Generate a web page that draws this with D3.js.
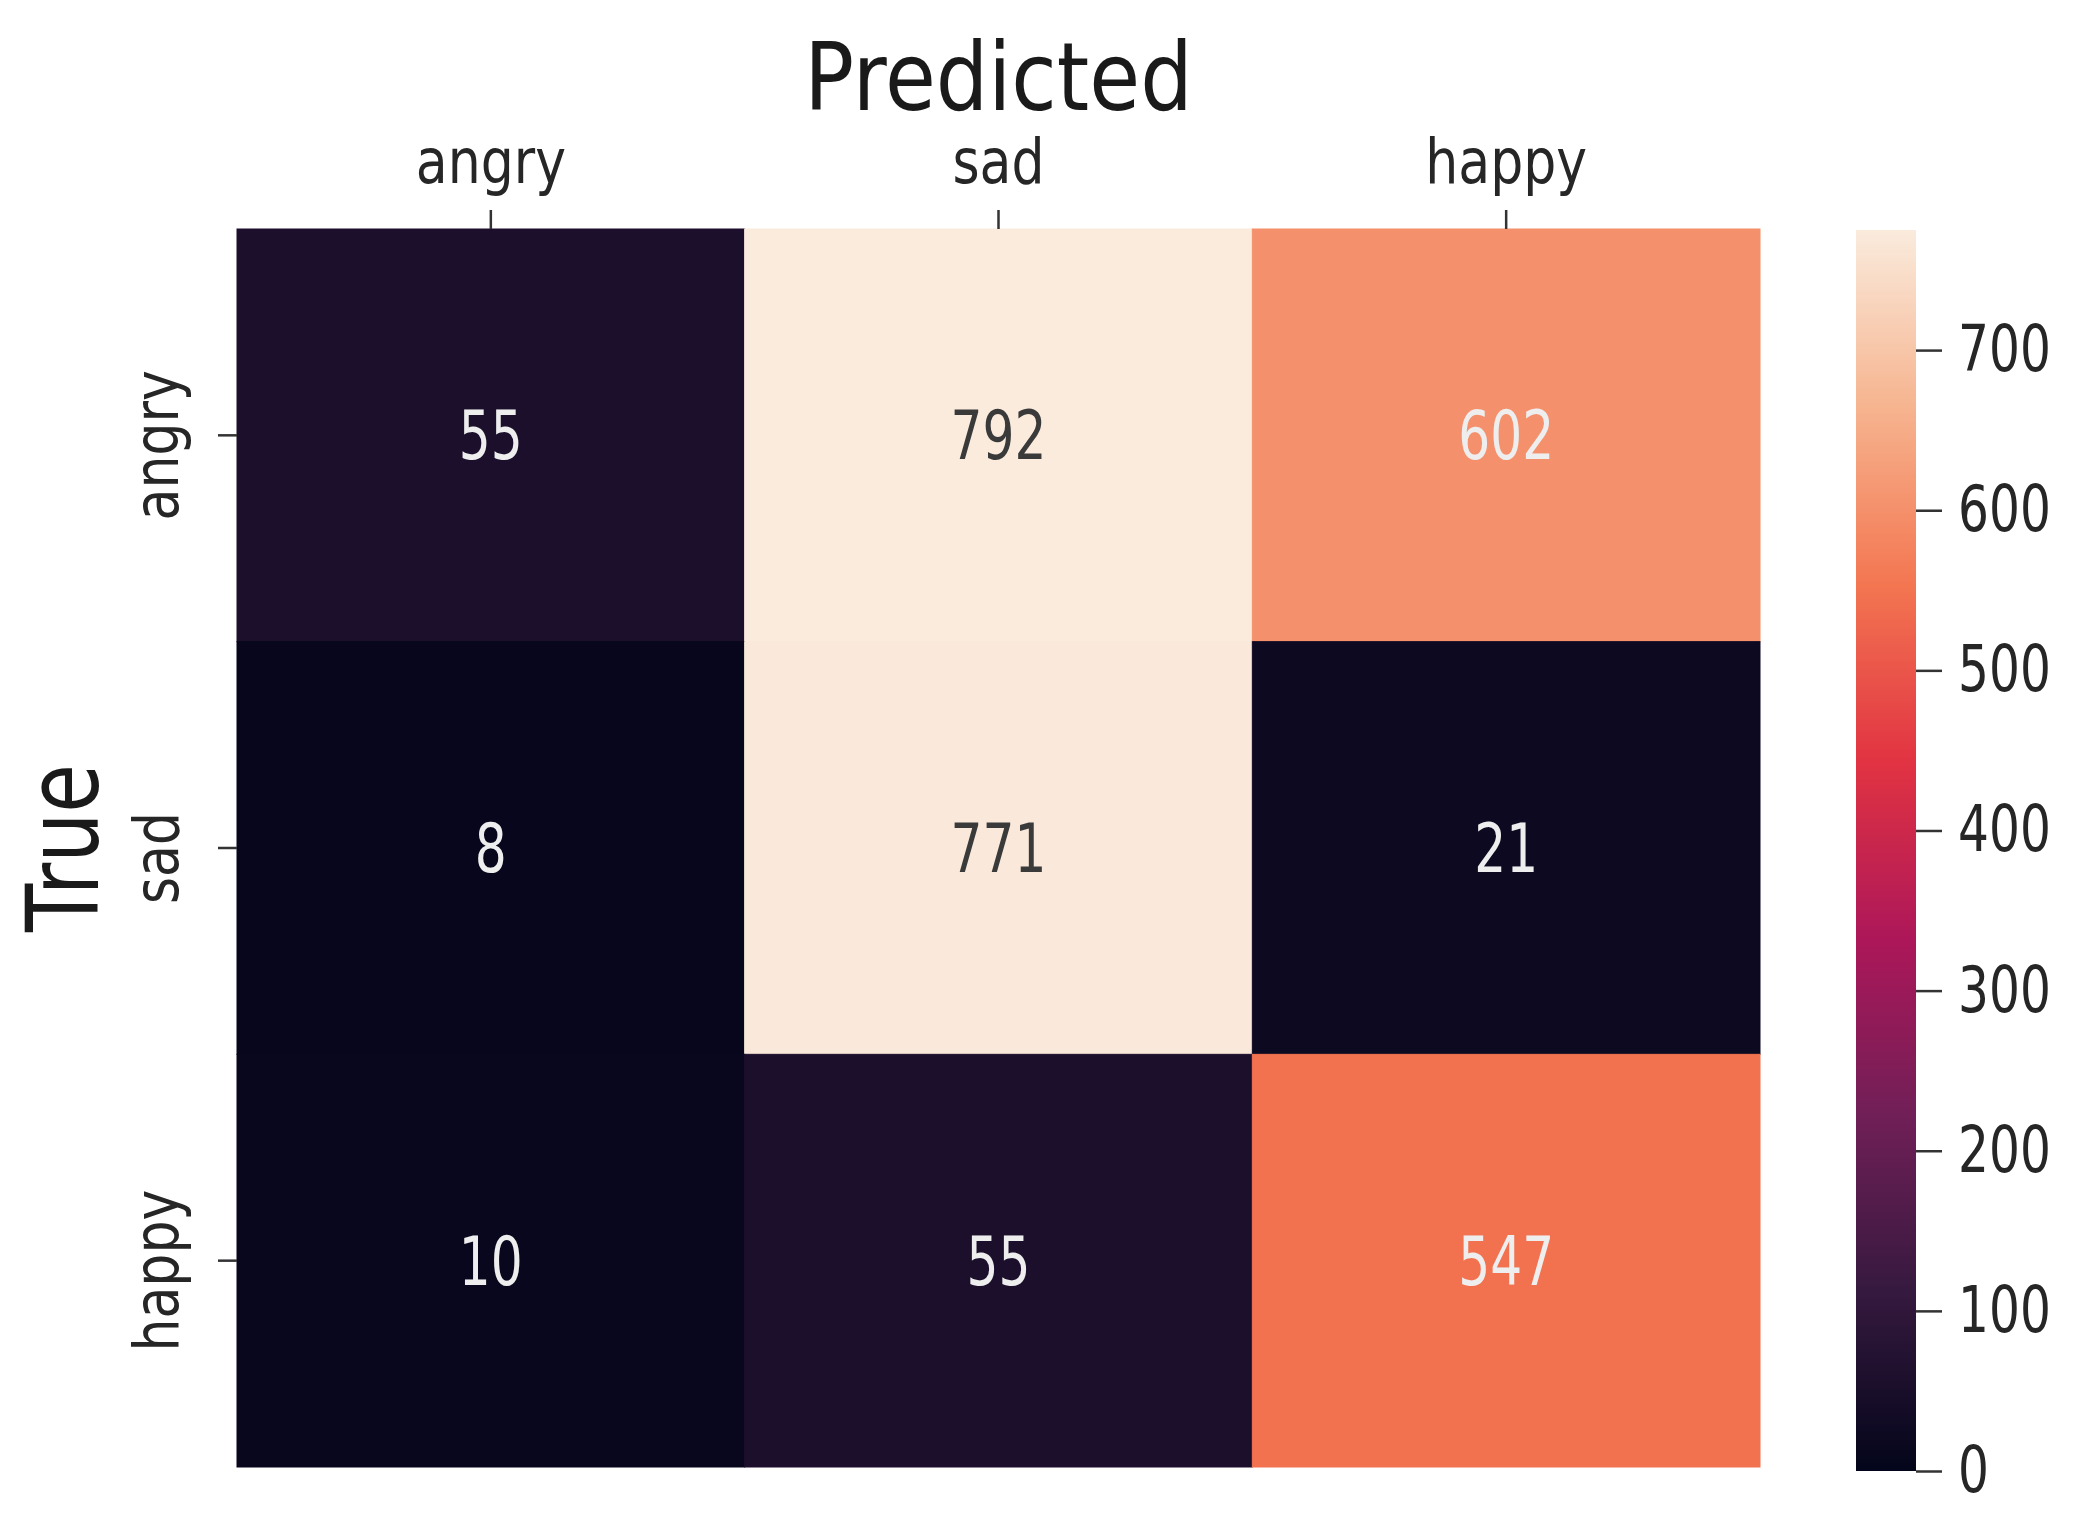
<!DOCTYPE html>
<html>
<head>
<meta charset="utf-8">
<script src="https://cdn.jsdelivr.net/npm/d3@7"></script>
<style>
  body { margin: 0; background: #fff; }
  text { font-family: "DejaVu Sans", sans-serif; }
</style>
</head>
<body>
<svg id="chart" width="2091" height="1536"></svg>
<script>
// confusion matrix
const predicted = ["angry", "sad", "happy"];
const actual = ["angry", "sad", "happy"];
const counts = [
  [55, 792, 602],
  [8, 771, 21],
  [10, 55, 547]
];
const cbarTicks = [0, 100, 200, 300, 400, 500, 600, 700];
const cbarMax = 775;

// rocket palette stops
const rocketPos = [0, 0.143, 0.286, 0.429, 0.571, 0.714, 0.857, 1];
const rocketCol = ["#03051a", "#35193e", "#701f57", "#ad1759", "#e13342", "#f37651", "#f6b48f", "#faebdd"];

const svg = d3.select("#chart");
const hmLeft = 237, hmRight = 1760, hmTop = 229, hmBottom = 1467;

// squeeze text horizontally (the source font is narrow)
function squeeze(sel, k) {
  sel.each(function () {
    const w = this.getComputedTextLength();
    d3.select(this).attr("textLength", w * k).attr("lengthAdjust", "spacingAndGlyphs");
  });
}

const x = d3.scaleBand().domain(predicted).range([hmLeft, hmRight]);
const y = d3.scaleBand().domain(actual).range([hmTop, hmBottom]);
const color = d3.scaleLinear()
  .domain(rocketPos.map(p => p * cbarMax))
  .range(rocketCol)
  .clamp(true);

// cells
const cells = [];
counts.forEach((row, i) => row.forEach((v, j) => cells.push({ t: actual[i], p: predicted[j], v })));

svg.append("g").selectAll("rect")
  .data(cells)
  .enter()
  .append("rect")
  .attr("x", d => x(d.p))
  .attr("y", d => y(d.t))
  .attr("width", x.bandwidth())
  .attr("height", y.bandwidth())
  .attr("fill", d => color(d.v))
  .attr("stroke", d => color(d.v))
  .attr("stroke-width", 1);

const labels = svg.append("g").selectAll("text")
  .data(cells)
  .enter()
  .append("text")
  .attr("x", d => x(d.p) + x.bandwidth() / 2)
  .attr("y", d => y(d.t) + y.bandwidth() / 2)
  .attr("dy", "0.36em")
  .attr("text-anchor", "middle")
  .style("font-size", "67px")
  .style("fill", d => (d.v > 700 ? "#3a3a3a" : "#eeeeee"))
  .text(d => d.v);
squeeze(labels, 0.75);

// eix X (top)
const gx = svg.append("g")
  .attr("transform", `translate(0,${hmTop})`)
  .call(d3.axisTop(x).tickSize(19).tickPadding(27));
gx.select(".domain").remove();
gx.selectAll("line").attr("stroke", "#333").attr("stroke-width", 2.5);
gx.selectAll("text")
  .style("font-size", "62px")
  .style("fill", "#262626");
squeeze(gx.selectAll("text"), 0.84);

// eix Y (left), rotated labels
const gy = svg.append("g")
  .attr("transform", `translate(${hmLeft},0)`)
  .call(d3.axisLeft(y).tickSize(19));
gy.select(".domain").remove();
gy.selectAll("line").attr("stroke", "#333").attr("stroke-width", 2.5);
gy.selectAll("text")
  .attr("x", 0)
  .attr("dy", 0)
  .attr("text-anchor", "middle")
  .attr("transform", "translate(-59,10) rotate(-90)")
  .style("font-size", "62px")
  .style("fill", "#262626");
squeeze(gy.selectAll("text"), 0.84);

// axis titles
const title = svg.append("text")
  .attr("x", (hmLeft + hmRight) / 2)
  .attr("y", 110)
  .attr("text-anchor", "middle")
  .style("font-size", "94px")
  .style("fill", "#1a1a1a")
  .text("Predicted");
squeeze(title, 0.88);

const ytitle = svg.append("text")
  .attr("transform", `translate(98,${(hmTop + hmBottom) / 2}) rotate(-90)`)
  .attr("text-anchor", "middle")
  .style("font-size", "100px")
  .style("fill", "#1a1a1a")
  .text("True");
squeeze(ytitle, 0.79);

// colorbar
const cbX = 1856, cbW = 60, cbTop = 230, cbBottom = 1471;
const grad = svg.append("defs").append("linearGradient")
  .attr("id", "rocket")
  .attr("x1", 0).attr("y1", 1).attr("x2", 0).attr("y2", 0);
grad.selectAll("stop")
  .data(rocketPos)
  .enter()
  .append("stop")
  .attr("offset", d => d)
  .attr("stop-color", (d, i) => rocketCol[i]);

svg.append("rect")
  .attr("x", cbX)
  .attr("y", cbTop)
  .attr("width", cbW)
  .attr("height", cbBottom - cbTop)
  .attr("fill", "url(#rocket)");

const cScale = d3.scaleLinear().domain([0, cbarMax]).range([cbBottom, cbTop]);
const gc = svg.append("g")
  .attr("transform", `translate(${cbX + cbW},0)`)
  .call(d3.axisRight(cScale).tickValues(cbarTicks).tickSize(26).tickPadding(16));
gc.select(".domain").remove();
gc.selectAll("line").attr("stroke", "#333").attr("stroke-width", 2.5);
gc.selectAll("text")
  .style("font-size", "64px")
  .style("fill", "#262626");
squeeze(gc.selectAll("text"), 0.76);
</script>
</body>
</html>
